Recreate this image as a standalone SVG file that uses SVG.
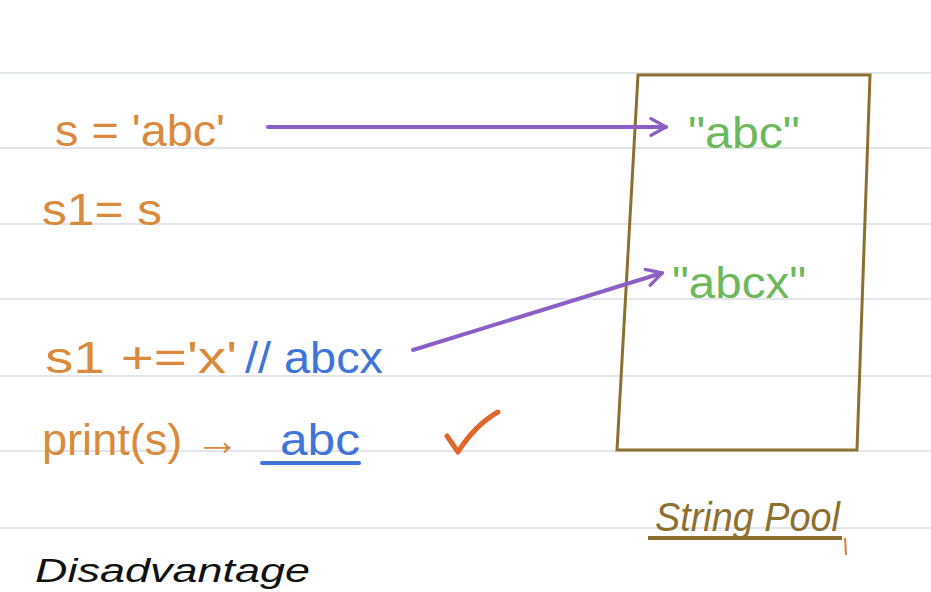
<svg xmlns="http://www.w3.org/2000/svg" width="931" height="592" viewBox="0 0 931 592">
<defs>
<style>
.rule{stroke:#e2e5e9;stroke-width:2}
.o{fill:#d98a3c;font-family:"Liberation Sans","DejaVu Sans",sans-serif}
.b{fill:#3f74d8;font-family:"Liberation Sans","DejaVu Sans",sans-serif}
.g{fill:#6cb85a;font-family:"Liberation Sans","DejaVu Sans",sans-serif}
.arrow{stroke:#8b5fc6;stroke-width:4;fill:none;stroke-linecap:round}
</style>
<marker id="ah" viewBox="0 0 12 12" refX="10" refY="6" markerWidth="5" markerHeight="5" orient="auto" markerUnits="strokeWidth">
<path d="M1,1 L10,6 L1,11" fill="none" stroke="#8b5fc6" stroke-width="2" stroke-linecap="round" stroke-linejoin="round"/>
</marker>
</defs>
<rect width="931" height="592" fill="#ffffff"/>
<g id="rules">
<line class="rule" x1="0" y1="73" x2="931" y2="73"/>
<line class="rule" x1="0" y1="148" x2="931" y2="148"/>
<line class="rule" x1="0" y1="224" x2="931" y2="224"/>
<line class="rule" x1="0" y1="299" x2="931" y2="299"/>
<line class="rule" x1="0" y1="376" x2="931" y2="376"/>
<line class="rule" x1="0" y1="451" x2="931" y2="451"/>
<line class="rule" x1="0" y1="528" x2="931" y2="528"/>
</g>
<g id="pool">
<path d="M638,75 L870,75 L857,450 L617,450 Z" fill="none" stroke="#8c7030" stroke-width="3"/>
<text class="g" x="688" y="148" font-size="44" textLength="112" lengthAdjust="spacingAndGlyphs">"abc"</text>
<text class="g" x="672" y="298" font-size="44" textLength="134" lengthAdjust="spacingAndGlyphs">"abcx"</text>
<text x="655" y="531" font-size="40" fill="#8c7030" font-family="Liberation Sans, sans-serif" font-style="italic" textLength="185" lengthAdjust="spacingAndGlyphs">String Pool</text>
<line x1="648" y1="538" x2="842" y2="538" stroke="#8c7030" stroke-width="4"/>
<line x1="845" y1="538" x2="846" y2="555" stroke="#e07a30" stroke-width="2"/>
</g>
<g id="code">
<text class="o" x="55" y="146" font-size="44" textLength="170" lengthAdjust="spacingAndGlyphs">s = 'abc'</text>
<text class="o" x="42" y="225" font-size="44" textLength="120" lengthAdjust="spacingAndGlyphs">s1= s</text>
<text class="o" x="45" y="373" font-size="44" textLength="192" lengthAdjust="spacingAndGlyphs">s1 +='x'</text>
<text class="b" x="245" y="373" font-size="44" textLength="138" lengthAdjust="spacingAndGlyphs">// abcx</text>
<text class="o" x="42" y="455" font-size="44" textLength="198" lengthAdjust="spacingAndGlyphs">print(s) →</text>
<text class="b" x="280" y="455" font-size="44" textLength="80" lengthAdjust="spacingAndGlyphs">abc</text>
<line x1="262" y1="463" x2="359" y2="463" stroke="#3f74d8" stroke-width="4" stroke-linecap="round"/>
<path d="M447,436 L458,452 Q475,425 498,412" fill="none" stroke="#e0662a" stroke-width="5" stroke-linecap="round" stroke-linejoin="round"/>
<text x="35" y="582" font-size="34" fill="#111" font-family="Liberation Sans, sans-serif" font-style="italic" textLength="275" lengthAdjust="spacingAndGlyphs">Disadvantage</text>
</g>
<g id="connectors">
<line class="arrow" x1="268" y1="127" x2="666" y2="127" marker-end="url(#ah)"/>
<line class="arrow" x1="413" y1="350" x2="662" y2="273" marker-end="url(#ah)"/>
</g>
</svg>
